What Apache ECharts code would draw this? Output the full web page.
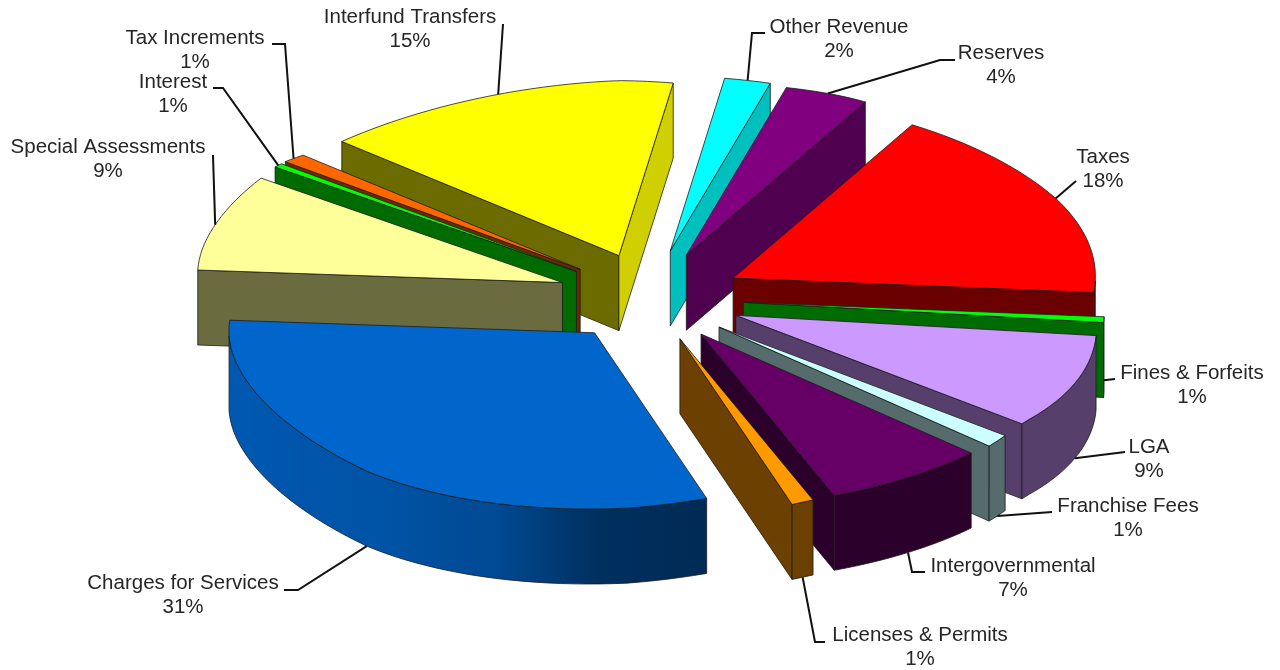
<!DOCTYPE html>
<html>
<head>
<meta charset="utf-8">
<title>Revenue sources</title>
<style>
html, body { margin: 0; background: #fff; }
#chart { width: 1280px; height: 670px; }
</style>
<script src="https://cdn.jsdelivr.net/npm/echarts@6/dist/echarts.min.js"></script>
</head>
<body>
<div id="chart"></div>
<script>
// clockwise from the first slice
const categories = ['Taxes', 'Fines & Forfeits', 'LGA', 'Franchise Fees', 'Intergovernmental', 'Licenses & Permits',
	'Charges for Services', 'Special Assessments', 'Interest', 'Tax Increments', 'Interfund Transfers', 'Other Revenue', 'Reserves']
// the labels show them rounded
const values = [18, 0.55, 9.45, 1, 7, 1, 31, 9, 0.6, 1.4, 15, 2, 4]
const colors = ['#ff0000', '#00ff00', '#cc99ff', '#ccffff', '#660066', '#ff9900',
	'#0066cc', '#ffff99', '#00ff00', '#ff6600', '#ffff00', '#00ffff', '#800080']
const explodesX = [0.25, 0.25, 0.25, 0.25, 0.25, 0.25, 0.235, 0.25, 0.25, 0.25, 0.26, 0.26, 0.25]
const explodesY = [0.25, 0.25, 0.25, 0.25, 0.25, 0.25, 0.26, 0.25, 0.25, 0.25, 0.26, 0.28, 0.27]

// label centre [x, y of first line], then the leader going out from the slice
const labelCenters = [[1103, 157], [1192, 373], [1149, 447], [1128, 506], [1013, 566], [920, 635],
	[183, 583], [108, 147], [173, 82], [195, 38], [410, 17], [839, 27], [1001, 53]]
const leaderEnds = [
	[[1076, 181]],
	[[1115, 379]],
	[[1125, 452]],
	[[1052, 512]],
	[[912, 572], [925, 572]],
	[[815, 642], [825, 642]],
	[[298, 590], [284, 590]],
	[[213, 155]],
	[[223, 88], [213, 88]],
	[[285, 44], [272, 44]],
	[[503, 24]],
	[[752, 33], [765, 33]],
	[[940, 60], [955, 60]]
]

// pie layout on screen
const startAngle = 30
const centerX = 650
const centerY = 298
const thickness = 75
// the picture is not a clean ellipse: [angle, radius x, radius y]
const rimTable = [[0, 372, 175], [16, 372, 174], [30, 358, 177], [62, 364, 172], [95, 362, 172], [130, 378, 165],
	[134, 378, 170], [160, 382, 172], [163, 388, 173], [175, 385, 176], [219, 362, 178], [275, 366, 150],
	[307, 378, 173], [314, 388, 163], [360, 372, 175]]

const total = values.reduce((a, b) => a + b, 0)
const startAngles = []
values.reduce((acc, v, i) => {
	startAngles[i] = acc
	return acc + (v / total) * 360
}, startAngle)

const rad = d => (d * Math.PI) / 180
const midAngle = i => startAngles[i] + (values[i] / total) * 180

const lookup = (table, angle, col) => {
	const a = ((angle % 360) + 360) % 360
	for (let k = 1; k < table.length; k++) {
		if (a <= table[k][0]) {
			const t = (a - table[k - 1][0]) / (table[k][0] - table[k - 1][0])
			return table[k - 1][col] + (table[k][col] - table[k - 1][col]) * t
		}
	}
	return table[table.length - 1][col]
}

const project = (i, r, angle, z) => {
	const mid = rad(midAngle(i))
	const x = explodesX[i] * 375 * Math.sin(mid) + r * lookup(rimTable, angle, 1) * Math.sin(rad(angle))
	const y = explodesY[i] * 172 * Math.cos(mid) + r * lookup(rimTable, angle, 2) * Math.cos(rad(angle))
	return [centerX + x, centerY - y + z * thickness]
}

const shadeTable = [[0, 0.42], [165, 0.42], [180, 0.47], [195, 0.72], [217, 0.82], [270, 0.88], [360, 0.88]]
const radialShade = normal => {
	const a = ((normal % 360) + 360) % 360
	if (a >= 125) return 0.42
	if (a >= 120) return 0.62 - ((a - 120) / 5) * 0.2
	return 0.82 - (Math.max(a - 98, 0) / 22) * 0.2
}
const darken = (hex, s) => {
	const n = parseInt(hex.slice(1), 16)
	const c = [(n >> 16) & 255, (n >> 8) & 255, n & 255].map(v => Math.round(v * s))
	return `rgb(${c.join(',')})`
}

const edge = { stroke: '#1c1c1c', lineWidth: 0.8, lineJoin: 'round' }

const renderSlice = (params, api) => {
	const i = api.value(0)
	const a0 = startAngles[i]
	const a1 = a0 + (values[i] / total) * 360
	const color = colors[i]
	const children = []
	const poly = (points, style) => children.push({ type: 'polygon', z2: params.dataIndex + 1, shape: { points }, style })
	const radial = (angle, normal) => poly(
		[project(i, 0, angle, 0), project(i, 1, angle, 0), project(i, 1, angle, 1), project(i, 0, angle, 1)],
		{ fill: darken(color, radialShade(normal)), ...edge }
	)

	if (Math.sin(rad(a0)) < 0) radial(a0, a0 - 90)
	if (Math.sin(rad(a1)) > 0) radial(a1, a1 + 90)

	const arc = []
	const steps = Math.max(2, Math.ceil((a1 - a0) / 2))
	for (let k = 0; k <= steps; k++) arc.push(a0 + ((a1 - a0) * k) / steps)

	// outer wall, only the part turned towards the viewer
	const front = arc.filter(a => Math.cos(rad(a)) <= 0)
	if (front.length > 1) {
		const xs = front.map(a => project(i, 1, a, 0)[0])
		const xMin = Math.min(...xs)
		const xMax = Math.max(...xs)
		const stops = front
			.map((a, k) => ({
				offset: (xs[k] - xMin) / (xMax - xMin || 1),
				color: darken(color, lookup(shadeTable, a, 1))
			}))
			.sort((p, q) => p.offset - q.offset)
		poly(
			[...front.map(a => project(i, 1, a, 0)), ...front.slice().reverse().map(a => project(i, 1, a, 1))],
			{ fill: new echarts.graphic.LinearGradient(0, 0, 1, 0, stops), ...edge }
		)
	}

	poly([project(i, 0, a0, 0), ...arc.map(a => project(i, 1, a, 0))], { fill: color, ...edge })
	return { type: 'group', children }
}

const renderLabel = (params, api) => {
	const i = api.value(0)
	const mid = midAngle(i)
	const z = Math.min(1, Math.max(0, -Math.cos(rad(mid)) * 8))
	const [lx, ly] = labelCenters[i]
	return {
		type: 'group',
		children: [
			{
				type: 'polyline',
				shape: { points: [project(i, 1, mid, z), ...leaderEnds[i]] },
				style: { fill: 'none', stroke: '#111', lineWidth: 2 }
			},
			{
				type: 'text',
				style: {
					x: lx,
					y: ly - 11,
					text: `${categories[i]}\n${Math.round(values[i])}%`,
					fill: '#262626',
					font: '20.5px "Liberation Sans"',
					align: 'center',
					verticalAlign: 'top',
					lineHeight: 23.5
				}
			}
		]
	}
}

// back slices first, so the nearer ones paint over them
const drawOrder = values.map((v, i) => i).sort((p, q) => Math.cos(rad(midAngle(q))) - Math.cos(rad(midAngle(p))))

const chart = echarts.init(document.getElementById('chart'))
chart.setOption({
	animation: false,
	series: [
		{
			type: 'custom',
			coordinateSystem: 'none',
			renderItem: renderSlice,
			silent: true,
			z: 2,
			data: drawOrder.map(i => [i, values[i]])
		},
		{
			type: 'custom',
			coordinateSystem: 'none',
			renderItem: renderLabel,
			silent: true,
			z: 3,
			data: categories.map((c, i) => [i, values[i]])
		}
	]
})
</script>
</body>
</html>
